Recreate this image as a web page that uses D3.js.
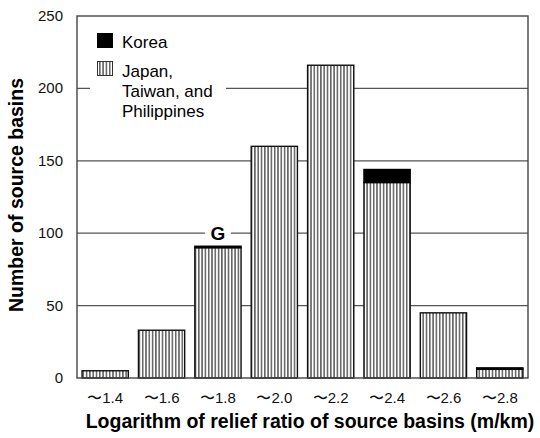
<!DOCTYPE html>
<html>
<head>
<meta charset="utf-8">
<script src="https://cdn.jsdelivr.net/npm/d3@7"></script>
<style>
  body { margin: 0; background: #fff; }
  svg { display: block; font-family: Arial, "Liberation Sans", sans-serif; }
</style>
</head>
<body>
<svg id="chart" width="540" height="438"></svg>
<script>
// Relief-ratio classes (upper bound of log relief ratio, m/km)
const categories = ["〜1.4", "〜1.6", "〜1.8", "〜2.0", "〜2.2", "〜2.4", "〜2.6", "〜2.8"];
// Number of source basins per class
const japanTaiwanPhilippines = [5, 33, 90, 160, 216, 135, 45, 6];
const korea = [0, 0, 1, 0, 0, 9, 0, 1];
const yTicks = [0, 50, 100, 150, 200, 250];

const svg = d3.select("#chart");
const margin = { left: 77, right: 12, top: 16, bottom: 60 };
const W = 540, H = 438;
const x0 = margin.left, x1 = W - margin.right;
const y0 = H - margin.bottom, y1 = margin.top;

const x = d3.scaleBand().domain(categories).range([x0, x1]).paddingInner(0.18).paddingOuter(0.09);
const y = d3.scaleLinear().domain([0, 250]).range([y0, y1]);

// vertical hatching used for Japan / Taiwan / Philippines
const defs = svg.append("defs");
const pat = defs.append("pattern")
  .attr("id", "vstripe").attr("patternUnits", "userSpaceOnUse")
  .attr("width", 3.3).attr("height", 10);
pat.append("rect").attr("width", 3.3).attr("height", 10).attr("fill", "#fff");
pat.append("line").attr("x1", 0.8).attr("x2", 0.8).attr("y1", 0).attr("y2", 10)
  .attr("stroke", "#333").attr("stroke-width", 1.2);

// horizontal gridlines
svg.append("g").selectAll("line").data(yTicks.filter(t => t > 0 && t < 250)).join("line")
  .attr("x1", x0).attr("x2", x1)
  .attr("y1", d => y(d)).attr("y2", d => y(d))
  .attr("stroke", "#555").attr("stroke-width", 1.2);

// y tick labels
svg.append("g").selectAll("text").data(yTicks).join("text")
  .attr("x", 63).attr("y", d => y(d) + 5)
  .attr("text-anchor", "end").attr("font-size", 15).attr("fill", "#111")
  .text(d => d);

// stacked bars
const stacked = categories.map((c, i) => ({ c, j: japanTaiwanPhilippines[i], k: korea[i] }));
const bars = svg.append("g");
bars.selectAll("rect.j").data(stacked).join("rect").attr("class", "j")
  .attr("x", d => x(d.c)).attr("width", x.bandwidth())
  .attr("y", d => y(d.j)).attr("height", d => y(0) - y(d.j))
  .attr("fill", "url(#vstripe)").attr("stroke", "#111").attr("stroke-width", 1.4);
bars.selectAll("rect.k").data(stacked.filter(d => d.k > 0)).join("rect").attr("class", "k")
  .attr("x", d => x(d.c)).attr("width", x.bandwidth())
  .attr("y", d => y(d.j + d.k)).attr("height", d => y(d.j) - y(d.j + d.k))
  .attr("fill", "#000").attr("stroke", "#000").attr("stroke-width", 1.4);

// plot frame
svg.append("rect").attr("x", x0).attr("y", y1).attr("width", x1 - x0).attr("height", y0 - y1)
  .attr("fill", "none").attr("stroke", "#444").attr("stroke-width", 1.4);

// "G" marker above the 〜1.8 class
const gCat = "〜1.8";
svg.append("rect").attr("x", x(gCat) + x.bandwidth() / 2 - 13).attr("y", y(100) - 10)
  .attr("width", 26).attr("height", 20).attr("fill", "#fff");
svg.append("text").attr("x", x(gCat) + x.bandwidth() / 2).attr("y", y(100) + 7)
  .attr("text-anchor", "middle").attr("font-size", 19).attr("font-weight", "bold")
  .text("G");

// legend
const lg = svg.append("g");
lg.append("rect").attr("x", 90).attr("y", 24).attr("width", 136).attr("height", 100).attr("fill", "#fff");
lg.append("rect").attr("x", 97).attr("y", 33).attr("width", 16).attr("height", 15).attr("fill", "#000");
lg.append("rect").attr("x", 97.5).attr("y", 61.5).attr("width", 15).attr("height", 14)
  .attr("fill", "url(#vstripe)").attr("stroke", "#333").attr("stroke-width", 1);
lg.append("text").attr("x", 122).attr("y", 48).attr("font-size", 17).text("Korea");
const lt = lg.append("text").attr("x", 122).attr("y", 77).attr("font-size", 17);
["Japan,", "Taiwan, and", "Philippines"].forEach((s, i) =>
  lt.append("tspan").attr("x", 122).attr("dy", i === 0 ? 0 : 20).text(s));

// x tick labels
svg.append("g").selectAll("text").data(categories).join("text")
  .attr("x", d => x(d) + x.bandwidth() / 2).attr("y", 403)
  .attr("text-anchor", "middle").attr("font-size", 15).attr("fill", "#111")
  .text(d => d);

// axis titles
svg.append("text").attr("x", 310).attr("y", 428).attr("text-anchor", "middle")
  .attr("font-size", 19.5).attr("font-weight", "bold").text("Logarithm of relief ratio of source basins (m/km)");
svg.append("text").attr("transform", `translate(23,195) rotate(-90)`)
  .attr("text-anchor", "middle").attr("font-size", 19.5).attr("font-weight", "bold")
  .text("Number of source basins");
</script>
</body>
</html>
